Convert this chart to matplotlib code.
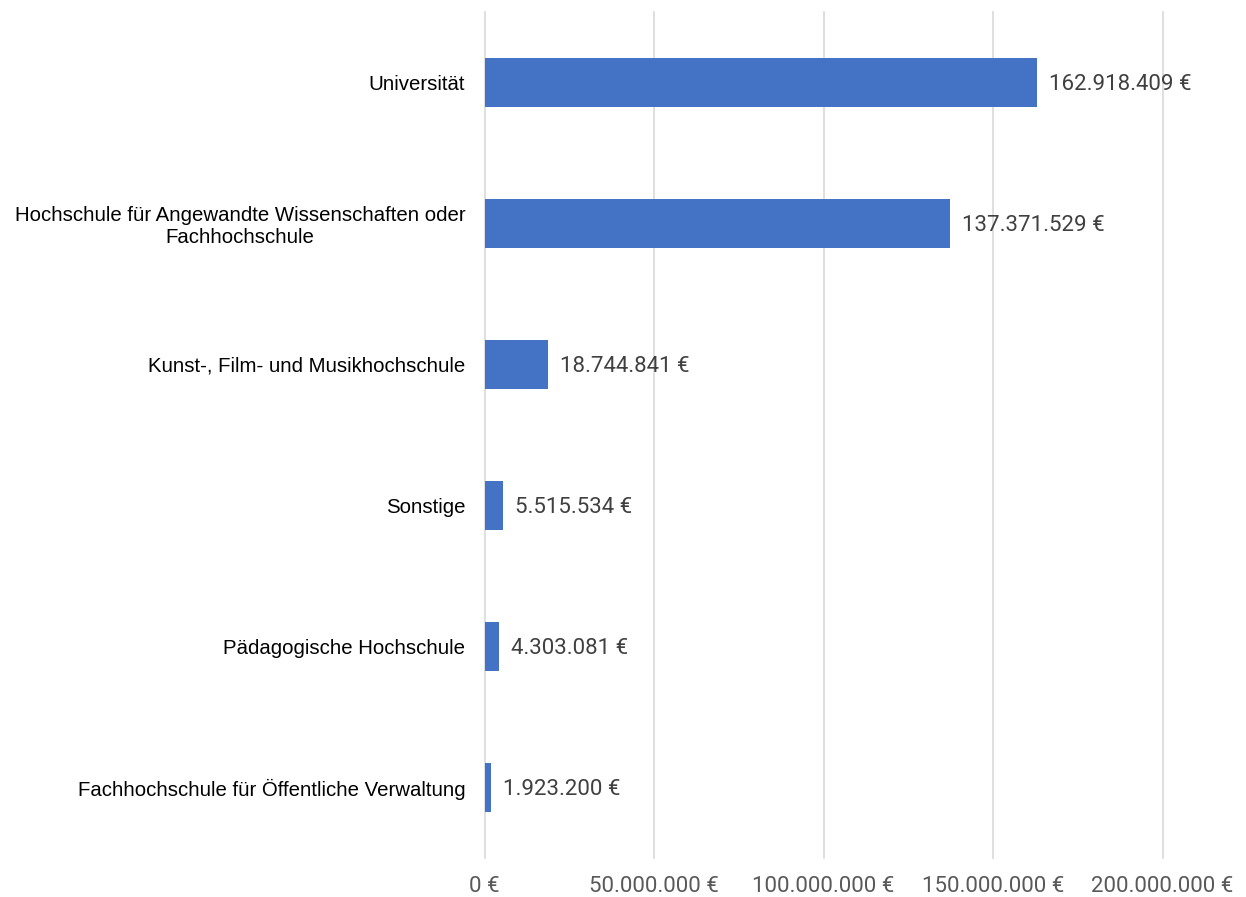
import matplotlib
matplotlib.use("Agg")
import matplotlib.pyplot as plt
from matplotlib.ticker import FuncFormatter

categories = [
    "Universität",
    "Hochschule für Angewandte Wissenschaften oder\nFachhochschule",
    "Kunst-, Film- und Musikhochschule",
    "Sonstige",
    "Pädagogische Hochschule",
    "Fachhochschule für Öffentliche Verwaltung",
]
values = [162918409, 137371529, 18744841, 5515534, 4303081, 1923200]
x_ticks = [0, 50000000, 100000000, 150000000, 200000000]


def euro(v):
    return f"{int(v):,}".replace(",", ".") + " €"


fig = plt.figure(figsize=(12.46, 8.97), dpi=100)
ax = fig.add_axes([0.389, 0.0435, 0.544, 0.9435])

ypos = list(range(len(categories)))[::-1]
ax.barh(ypos, values, height=0.35, color="#4472C4", zorder=3)

ax.set_xlim(0, 200000000)
ax.set_ylim(-0.5, len(categories) - 0.5)
ax.set_xticks(x_ticks)
ax.xaxis.set_major_formatter(FuncFormatter(lambda v, p: euro(v)))
ax.grid(axis="x", color="#D9D9D9", linewidth=1.2, zorder=0)
for gl in ax.get_xgridlines():
    gl.set_clip_on(False)
for s in ax.spines.values():
    s.set_visible(False)
ax.tick_params(axis="x", length=0, pad=13, labelsize=16, labelcolor="#595959")
ax.tick_params(axis="y", length=0, pad=14, labelsize=14.7)
for lab in ax.get_xticklabels():
    lab.set_fontfamily("Roboto")
ax.set_yticks(ypos)
ax.set_yticklabels(categories, fontfamily="Liberation Sans", color="black", ha="right")
for lab in ax.get_yticklabels():
    lab.set_multialignment("center")
    lab.set_linespacing(1.2)

for y, v in zip(ypos, values):
    ax.text(v + 3500000, y, euro(v), va="center_baseline", ha="left",
            fontsize=16, color="#404040", fontfamily="Roboto")

fig.savefig("out.png", dpi=100)
